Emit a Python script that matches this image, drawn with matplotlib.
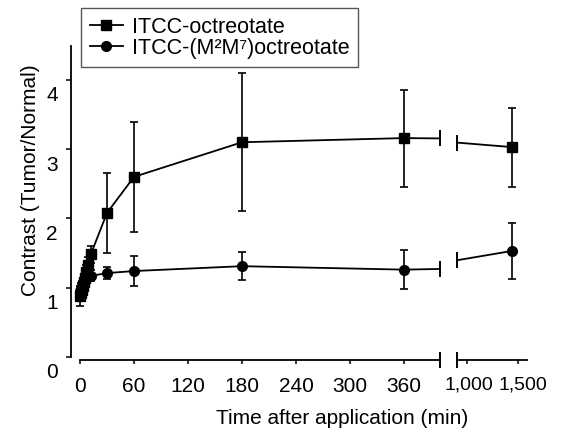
import numpy as np
import matplotlib

matplotlib.use("Agg")
import matplotlib.pyplot as plt  # noqa: E402
from matplotlib.transforms import ScaledTranslation  # noqa: E402

plt.rcParams["font.family"] = ["Liberation Sans", "DejaVu Sans"]

# Data (contrast tumor/normal vs time in min)
time_min = [0, 1, 2, 3, 4, 5, 7, 9, 12, 30, 60, 180, 360, 1440]
octreotate = [0.88, 0.92, 0.97, 1.02, 1.08, 1.14, 1.22, 1.32, 1.48, 2.08, 2.60, 3.10, 3.16, 3.03]
octreotate_sd = [0.14, 0.10, 0.10, 0.10, 0.10, 0.10, 0.10, 0.12, 0.12, 0.58, 0.79, 1.00, 0.70, 0.57]
m2m7 = [0.95, 0.98, 1.02, 1.06, 1.10, 1.13, 1.16, 1.19, 1.17, 1.21, 1.24, 1.31, 1.26, 1.53]
m2m7_sd = [0.08, 0.08, 0.08, 0.08, 0.08, 0.08, 0.08, 0.08, 0.08, 0.09, 0.21, 0.20, 0.28, 0.41]

labels = ["ITCC-octreotate", "ITCC-(M\u00b2M\u2077)octreotate"]
markers = ["s", "o"]

x_ticks_left = [0, 60, 120, 180, 240, 300, 360]
x_ticks_right = [1000, 1500]
x_ticklabels_right = ["1,000", "1,500"]
y_ticks = [0, 1, 2, 3, 4]

# broken x axis
x_left_lim = (-10, 400)
x_right_lim = (902, 1588)
y_lim = (-0.045, 4.49)

FS = 15

W, H = 569, 433
fig = plt.figure(figsize=(W / 100, H / 100), dpi=100)
fig.patch.set_facecolor("white")

bottom = 1 - 360 / H
height = (360 - 46) / H
ax_l = fig.add_axes([71 / W, bottom, (440 - 71) / W, height])
ax_r = fig.add_axes([457 / W, bottom, (527 - 457) / W, height])

series = [(octreotate, octreotate_sd), (m2m7, m2m7_sd)]
t = np.array(time_min, dtype=float)

handles = []
for ax in (ax_l, ax_r):
    for (vals, sd), mk, lab in zip(series, markers, labels):
        ms = 6.5 if mk == "s" else 7
        (ln,) = ax.plot(t, vals, color="black", lw=1.3, marker=mk, ms=ms, label=lab)
        ax.errorbar(t, vals, yerr=sd, fmt="none", ecolor="black", elinewidth=1.2,
                    capsize=2.6, capthick=1.2)
        if ax is ax_l:
            handles.append(ln)
    ax.set_ylim(*y_lim)
    ax.set_facecolor("none")
    for s in ("top", "right"):
        ax.spines[s].set_visible(False)
    ax.spines["bottom"].set_linewidth(1.3)
    ax.tick_params(axis="x", direction="out", length=3, width=1.1, pad=9, labelsize=FS)

# break caps on data lines and x axis
for ax, xb in ((ax_l, x_left_lim[1]), (ax_r, x_right_lim[0])):
    for vals, _ in series:
        ax.plot([xb], [np.interp(xb, t, vals)], marker="|", ms=12, mew=1.4,
                color="black", clip_on=False)
    ax.plot([xb], [0], marker="|", ms=12, mew=1.4, color="black", clip_on=False,
            transform=ax.get_xaxis_transform())

# left panel
ax_l.set_xlim(*x_left_lim)
ax_l.spines["bottom"].set_bounds(0, x_left_lim[1])
ax_l.spines["left"].set_bounds(0, y_lim[1])
ax_l.spines["left"].set_linewidth(1.3)
ax_l.set_xticks(x_ticks_left)
ax_l.set_yticks(y_ticks)
ax_l.tick_params(axis="y", direction="out", length=3.6, width=1.1, pad=6, labelsize=FS)
offset = ScaledTranslation(0, -0.14, fig.dpi_scale_trans)
for lbl in ax_l.get_yticklabels():
    lbl.set_transform(lbl.get_transform() + offset)
ax_l.set_ylabel("Contrast (Tumor/Normal)", fontsize=FS)
ax_l.yaxis.set_label_coords(-0.085, 0.573)

# right panel
ax_r.set_xlim(*x_right_lim)
ax_r.spines["left"].set_visible(False)
ax_r.set_yticks([])
ax_r.set_xticks(x_ticks_right)
ax_r.set_xticklabels(x_ticklabels_right)
ax_r.tick_params(axis="x", labelsize=14)
for lbl, dx in zip(ax_r.get_xticklabels(), [0.02, 0.05]):
    lbl.set_transform(lbl.get_transform() + ScaledTranslation(dx, 0, fig.dpi_scale_trans))

fig.text(342 / W, 1 - 419 / H, "Time after application (min)", ha="center", va="center",
         fontsize=FS)

leg = ax_l.legend(handles, labels, loc="upper left", bbox_to_anchor=(81 / W, 1 - 8 / H),
                  bbox_transform=fig.transFigure, borderaxespad=0, fontsize=15.5,
                  numpoints=1, handlelength=1.55, handletextpad=0.42, labelspacing=0.0,
                  borderpad=0.4, fancybox=False, framealpha=1)
leg.get_frame().set_edgecolor("#555555")
leg.get_frame().set_linewidth(1.0)

fig.savefig("out.png", dpi=100)
